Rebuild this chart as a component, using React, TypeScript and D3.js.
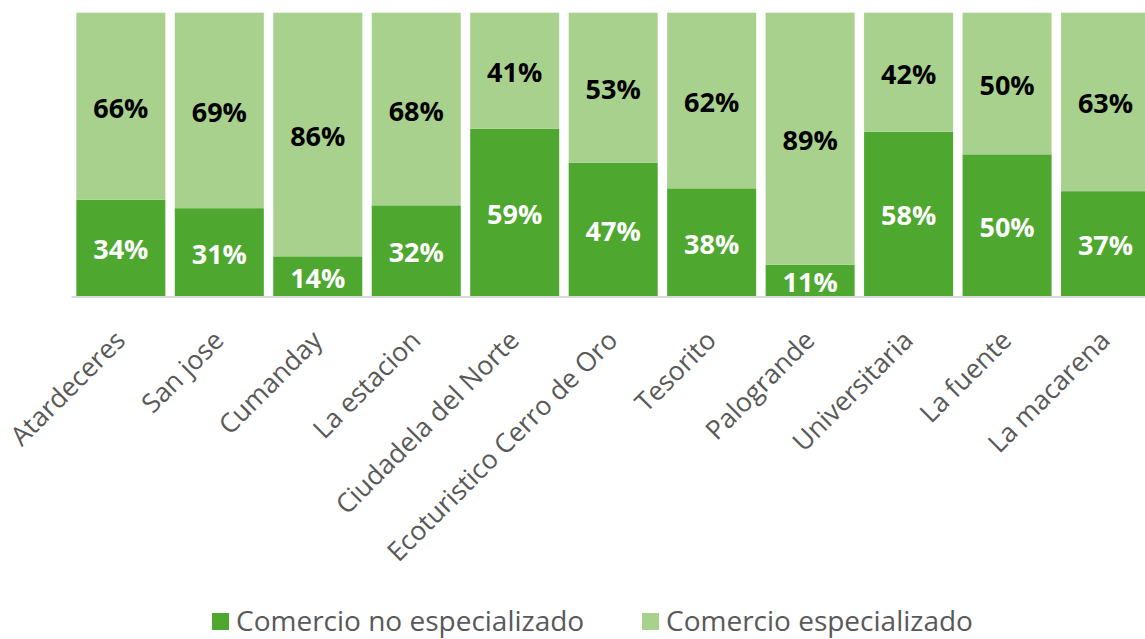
import React from "react";
import * as d3 from "d3";

const categories = ["Atardeceres","San jose","Cumanday","La estacion","Ciudadela del Norte","Ecoturistico Cerro de Oro","Tesorito","Palogrande","Universitaria","La fuente","La macarena"];
const noEspecializado = [34,31,14,32,59,47,38,11,58,50,37];
const especializado = [66,69,86,68,41,53,62,89,42,50,63];
const seriesNames = ["Comercio no especializado","Comercio especializado"];
const colors = ["#4EA72E","#A9D18E"];

const W = 1145, H = 639;
const left = 71.6, step = 98.47, top = 12.7, bottom = 296;

export default function App() {
  const x = d3.scaleBand<string>().domain(categories).range([left, left + step * categories.length]).paddingInner(0.096).paddingOuter(0.048);
  const y = d3.scaleLinear().domain([0, 100]).range([bottom, top]);
  const font = "'Open Sans', 'Segoe UI', sans-serif";
  const bw = x.bandwidth();
  return (
    <svg width={W} height={H} style={{ position: "absolute", left: 0, top: 0 }} fontFamily={font}>
      <rect width={W} height={H} fill="#fff" />
      {categories.map((c, i) => {
        const x0 = x(c)!;
        const a = noEspecializado[i], b = especializado[i];
        const yA = y(a), yB = y(a + b);
        return (
          <g key={c}>
            <rect x={x0} y={yA} width={bw} height={bottom - yA} fill={colors[0]} />
            <rect x={x0} y={yB} width={bw} height={yA - yB} fill={colors[1]} />
            <text x={x0 + bw / 2} y={(bottom + yA) / 2 + 1} textAnchor="middle" dominantBaseline="central" fontSize={27} fontWeight="bold" fill="#fff">{a}%</text>
            <text x={x0 + bw / 2} y={(yA + yB) / 2 + 1} textAnchor="middle" dominantBaseline="central" fontSize={27} fontWeight="bold" fill="#000">{b}%</text>
          </g>
        );
      })}
      <line x1={left} x2={W} y1={bottom + 1} y2={bottom + 1} stroke="#D9D9D9" strokeWidth={2} />
      {categories.map((c) => {
        const cx = x(c)! + bw / 2;
        return (
          <text key={c} transform={`translate(${cx - 1},${bottom + 39}) rotate(-45)`} textAnchor="end" dominantBaseline="central" fontSize={26.5} fill="#595959">{c}</text>
        );
      })}
      <g>
        <rect x={212} y={613} width={17} height={17} fill={colors[0]} />
        <text x={236} y={631} fontSize={28} fill="#595959">{seriesNames[0]}</text>
        <rect x={642} y={613} width={17} height={17} fill={colors[1]} />
        <text x={666} y={631} fontSize={28} fill="#595959">{seriesNames[1]}</text>
      </g>
    </svg>
  );
}
